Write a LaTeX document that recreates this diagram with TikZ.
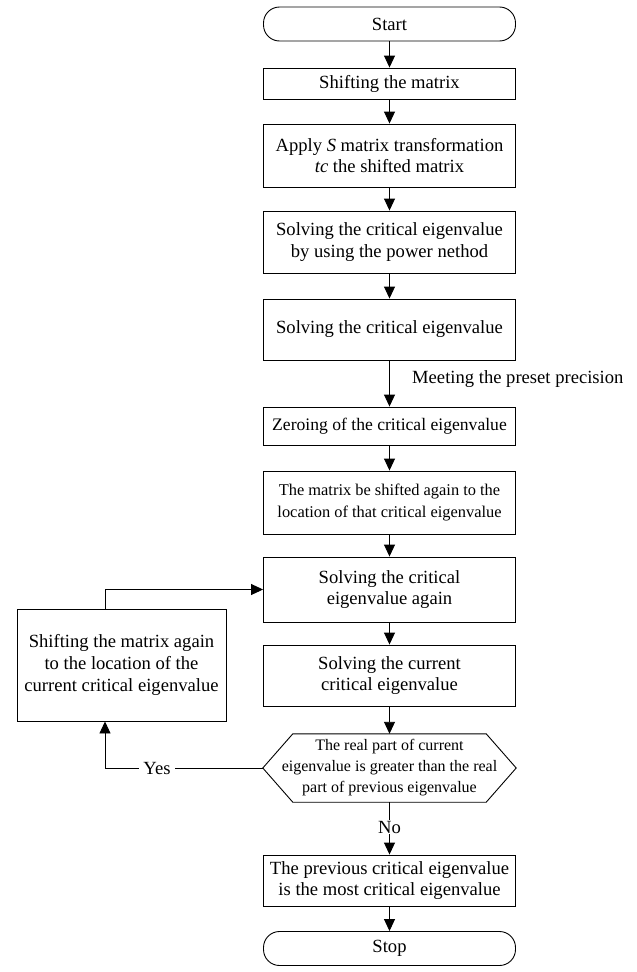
\documentclass[tikz,border=0pt]{standalone}
\usepackage{fontspec}
\setmainfont{Liberation Serif}
\usetikzlibrary{arrows.meta}
\begin{document}
\begin{tikzpicture}[x=1pt,y=-1pt,
  box/.style={draw, line width=0.9pt, minimum width=252pt, inner sep=0pt, align=center, font=\fontsize{18.6}{21.7}\selectfont},
  term/.style={box, rounded corners=16pt},
  arr/.style={-{Triangle[length=12pt,width=11pt]}, line width=0.9pt},
  ln/.style={line width=0.9pt},
  lbl/.style={inner sep=1pt, font=\fontsize{18.6}{21.7}\selectfont}]
\useasboundingbox (0,0) rectangle (637,972);

\node[term, minimum height=34pt] (start) at (389.5,24) {Start};
\node[box, minimum height=31pt] (shift) at (389.5,83.5) {Shifting the matrix};
\node[box, minimum height=63pt] (apply) at (389.5,155.5) {Apply \textit{S} matrix transformation\\\textit{tc} the shifted matrix};
\node[box, minimum height=62pt] (power) at (389.5,242) {Solving the critical eigenvalue\\by using the power nethod};
\node[box, minimum height=61pt] (solve) at (389.5,329.5) {Solving the critical eigenvalue};
\node[box, minimum height=38pt, font=\fontsize{17.6}{21}\selectfont] (zero) at (389.5,426) {Zeroing of the critical eigenvalue};
\node[box, minimum height=63pt, font=\fontsize{16.4}{22}\selectfont] (again) at (389.5,502.5) {The matrix be shifted again to the\\location of that critical eigenvalue};
\node[box, minimum height=65pt] (solveagain) at (389.5,589.5) {Solving the critical\\eigenvalue again};
\node[box, minimum height=61pt] (current) at (389.5,675.5) {Solving the current\\critical eigenvalue};
\node[inner sep=0pt, minimum width=253pt, minimum height=68pt, align=center, font=\fontsize{16}{21}\selectfont] (hex) at (389.5,768) {The real part of current\\eigenvalue is greater than the real\\part of previous eigenvalue};
\draw[ln] (hex.west) -- ([xshift=30pt]hex.north west) -- ([xshift=-30pt]hex.north east) -- (hex.east) -- ([xshift=-30pt]hex.south east) -- ([xshift=30pt]hex.south west) -- cycle;
\node[box, minimum height=51pt] (prev) at (389.5,880.5) {The previous critical eigenvalue\\is the most critical eigenvalue};
\node[term, minimum height=34pt] (stop) at (389.5,948.5) {Stop};
\node[box, minimum width=209pt, minimum height=112pt] (left) at (121.5,665) {Shifting the matrix again\\to the location of the\\current critical eigenvalue};

\coordinate (lx) at (105,0);

\draw[arr] (start) -- (shift);
\draw[arr] (shift) -- (apply);
\draw[arr] (apply) -- (power);
\draw[arr] (power) -- (solve);
\draw[arr] (solve) -- (zero);
\node[lbl, anchor=west] (meet) at (411,379) {Meeting the preset precision};
\draw[arr] (zero) -- (again);
\draw[arr] (again) -- (solveagain);
\draw[arr] (solveagain) -- (current);
\draw[arr] (current) -- (hex.north);
\draw[arr] (hex.south) -- (prev.north);
\node[lbl, fill=white] (no) at (389.5,827) {No};
\draw[arr] (prev) -- (stop);
\draw[arr] (left.north -| lx) |- (solveagain.west);
\draw[arr] (hex.west) -| (left.south -| lx);
\node[lbl, fill=white, inner xsep=4pt] (yes) at (157,768) {Yes};
\end{tikzpicture}
\end{document}
